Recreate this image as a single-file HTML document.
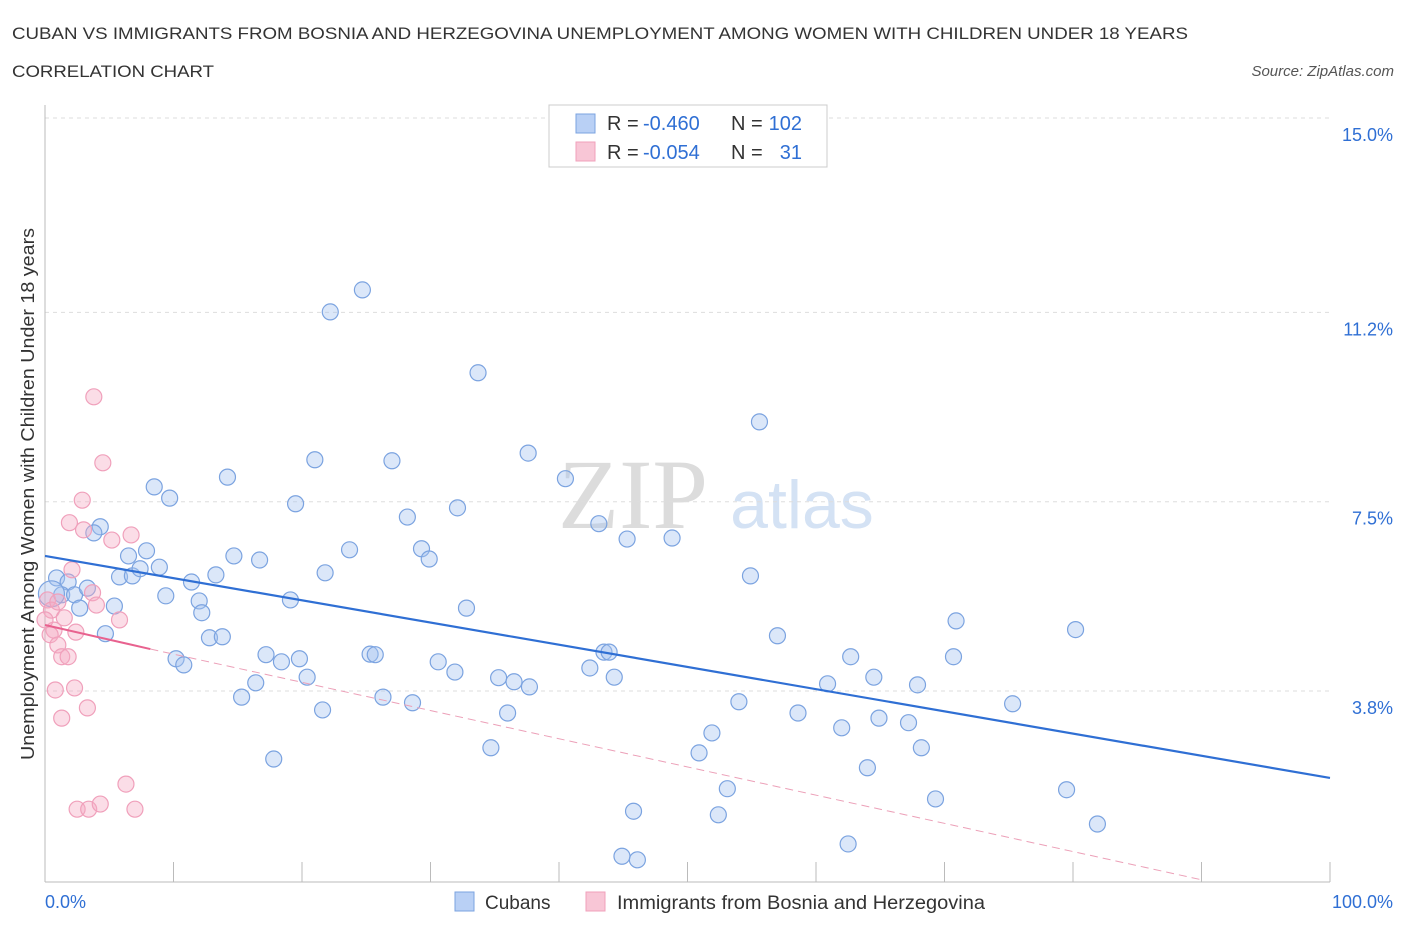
<!DOCTYPE html>
<html><head><meta charset="utf-8">
<style>
body{margin:0;background:#fff;font-family:"Liberation Sans",sans-serif;}
svg text{font-family:"Liberation Sans",sans-serif;}
</style></head>
<body>
<svg id="chart" width="1406" height="930" viewBox="0 0 1406 930">
<text x="12" y="39" font-size="17" fill="#333" textLength="1176" lengthAdjust="spacingAndGlyphs">CUBAN VS IMMIGRANTS FROM BOSNIA AND HERZEGOVINA UNEMPLOYMENT AMONG WOMEN WITH CHILDREN UNDER 18 YEARS</text>
<text x="12" y="77" font-size="17" fill="#333" textLength="202" lengthAdjust="spacingAndGlyphs">CORRELATION CHART</text>
<text x="1394" y="76" font-size="15" fill="#555" text-anchor="end" font-style="italic">Source: ZipAtlas.com</text>
<text x="633" y="528" font-size="100" fill="#dcdcdc" text-anchor="middle" style="font-family:'Liberation Serif',serif">ZIP</text>
<text x="802" y="528" font-size="68" fill="#d4e2f4" text-anchor="middle">atlas</text>
<g id="grid"></g>
<g id="axes"></g>
<g id="marks"></g>
<text transform="translate(34,494) rotate(-90)" font-size="18" fill="#333" text-anchor="middle" textLength="532" lengthAdjust="spacingAndGlyphs">Unemployment Among Women with Children Under 18 years</text>
<g>
<rect x="549" y="105" width="278" height="62" fill="#fff" stroke="#ccc"/>
<rect x="576" y="114" width="19" height="19" fill="#b9d0f5" stroke="#7ba3e0"/>
<rect x="576" y="142" width="19" height="19" fill="#f8c6d6" stroke="#f0a0bb"/>
<text x="607" y="130" font-size="20" fill="#333">R =</text>
<text x="643" y="130" font-size="20" fill="#2f6fd4">-0.460</text>
<text x="731" y="130" font-size="20" fill="#333">N =</text>
<text x="802" y="130" font-size="20" fill="#2f6fd4" text-anchor="end">102</text>
<text x="607" y="159" font-size="20" fill="#333">R =</text>
<text x="643" y="159" font-size="20" fill="#2f6fd4">-0.054</text>
<text x="731" y="159" font-size="20" fill="#333">N =</text>
<text x="802" y="159" font-size="20" fill="#2f6fd4" text-anchor="end">31</text>
</g>
<g>
<rect x="455" y="892" width="19" height="19" fill="#b9d0f5" stroke="#7ba3e0"/>
<text x="485" y="909" font-size="19" fill="#333">Cubans</text>
<rect x="586" y="892" width="19" height="19" fill="#f8c6d6" stroke="#f0a0bb"/>
<text x="617" y="909" font-size="19" fill="#333" textLength="368" lengthAdjust="spacingAndGlyphs">Immigrants from Bosnia and Herzegovina</text>
</g>
</svg>
<script>
const yTicks=[15.0,11.2,7.5,3.8];
const yTickLabels=["15.0%","11.2%","7.5%","3.8%"];
const cubanX=[0.9,1.8,1.3,2.3,2.7,3.3,4.3,3.8,5.4,4.7,5.8,6.5,6.8,7.4,7.9,8.5,8.9,9.4,9.7,10.2,10.8,11.4,12.0,12.2,12.8,13.3,13.8,14.2,14.7,15.3,16.4,16.7,17.2,18.4,19.1,19.5,19.8,20.4,21.0,21.6,21.8,22.2,23.7,24.7,25.3,25.7,26.3,27.0,28.2,28.6,29.3,29.9,30.6,31.9,32.1,32.8,33.7,34.7,35.3,36.0,36.5,37.6,37.7,40.5,42.4,43.1,43.5,43.9,44.3,44.9,45.3,45.8,46.1,48.8,50.9,51.9,52.4,53.1,54.0,54.9,55.6,57.0,58.6,60.9,62.0,62.5,62.7,64.0,64.5,64.9,67.2,67.9,68.2,69.3,70.7,70.9,75.3,79.5,80.2,81.9,17.8,0.5];
const cubanY=[6.01,5.93,5.68,5.68,5.42,5.81,7.01,6.89,5.46,4.92,6.03,6.44,6.05,6.19,6.54,7.79,6.22,5.66,7.57,4.43,4.31,5.93,5.56,5.33,4.84,6.07,4.86,7.98,6.44,3.68,3.96,6.36,4.51,4.37,5.58,7.46,4.43,4.07,8.32,3.43,6.11,11.21,6.56,11.64,4.52,4.51,3.68,8.30,7.20,3.57,6.58,6.38,4.37,4.17,7.38,5.42,10.02,2.69,4.06,3.37,3.98,8.45,3.88,7.95,4.25,7.07,4.56,4.56,4.07,0.57,6.77,1.45,0.50,6.79,2.59,2.98,1.38,1.89,3.59,6.05,9.06,4.88,3.37,3.94,3.08,0.81,4.47,2.30,4.07,3.27,3.18,3.92,2.69,1.69,4.47,5.17,3.55,1.87,5.00,1.20,2.47,5.70];
const bosniaX=[0.2,0.5,0.7,0.4,0.8,1.0,1.3,1.5,1.9,2.1,2.3,2.4,2.5,2.9,3.0,3.3,3.4,3.7,4.0,4.3,3.8,4.5,5.2,5.8,6.3,6.7,7.0,1.3,1.8,0.0,1.0];
const bosniaY=[5.58,5.38,4.99,4.90,3.82,4.70,3.27,5.23,7.09,6.17,3.86,4.95,1.49,7.53,6.95,3.47,1.49,5.72,5.48,1.59,9.55,8.26,6.75,5.19,1.98,6.85,1.49,4.47,4.47,5.19,5.54];
const cubanTrend=[[0,6.44],[100,2.10]];
const bosniaTrendSolid=[[0,5.09],[8.2,4.62]];
const bosniaTrendDash=[[8.2,4.62],[90,0.11]];

const NS="http://www.w3.org/2000/svg";
const X=v=>45+v*12.85;
const Y=v=>118+(15-v)*51.16;
function mk(tag,attrs,parent){const e=document.createElementNS(NS,tag);for(const k in attrs)e.setAttribute(k,attrs[k]);parent.appendChild(e);return e;}
const grid=document.getElementById('grid'),axes=document.getElementById('axes'),marks=document.getElementById('marks');
yTicks.forEach((t,i)=>{
 const l=mk('line',{x1:45,x2:1330,y1:Y(t),y2:Y(t),stroke:'#ddd','stroke-dasharray':'4,4'},grid);
 
 
 const tx=mk('text',{x:1393,y:Y(t)+23,'font-size':18,fill:'#2f6fd4','text-anchor':'end'},axes);
 tx.textContent=yTickLabels[i];
 
 
});
const ax=mk('line',{x1:45,x2:1330,y1:882,y2:882,stroke:'#bbb'},axes);


const ay=mk('line',{x1:45,x2:45,y1:105,y2:882,stroke:'#bbb'},axes);


for(let i=0;i<=10;i++){
 const t=mk('line',{x1:X(i*10),x2:X(i*10),y1:862,y2:882,stroke:'#bbb'},axes);
 
 
}
const xl=mk('text',{x:45,y:908,'font-size':18,fill:'#2f6fd4'},axes);xl.textContent='0.0%';


const xr=mk('text',{x:1393,y:908,'font-size':18,fill:'#2f6fd4','text-anchor':'end'},axes);xr.textContent='100.0%';



cubanX.forEach((x,i)=>{
 const c=mk('circle',{cx:X(x),cy:Y(cubanY[i]),r:i===cubanX.length-1?13:8,fill:'rgba(164,194,240,0.4)',stroke:'#7ba3e0','stroke-width':1.2},marks);
 
 
});
bosniaX.forEach((x,i)=>{
 const c=mk('circle',{cx:X(x),cy:Y(bosniaY[i]),r:8,fill:'rgba(245,170,195,0.4)',stroke:'#f0a0bb','stroke-width':1.2},marks);
 
 
});
const t1=mk('line',{x1:X(cubanTrend[0][0]),y1:Y(cubanTrend[0][1]),x2:X(cubanTrend[1][0]),y2:Y(cubanTrend[1][1]),stroke:'#2f6fd4','stroke-width':2.2},marks);


const t2=mk('line',{x1:X(bosniaTrendSolid[0][0]),y1:Y(bosniaTrendSolid[0][1]),x2:X(bosniaTrendSolid[1][0]),y2:Y(bosniaTrendSolid[1][1]),stroke:'#e8628f','stroke-width':2},marks);


const t3=mk('line',{x1:X(bosniaTrendDash[0][0]),y1:Y(bosniaTrendDash[0][1]),x2:X(bosniaTrendDash[1][0]),y2:Y(bosniaTrendDash[1][1]),stroke:'#eca0b8','stroke-width':1,'stroke-dasharray':'8,5'},marks);


</script>
</body></html>
